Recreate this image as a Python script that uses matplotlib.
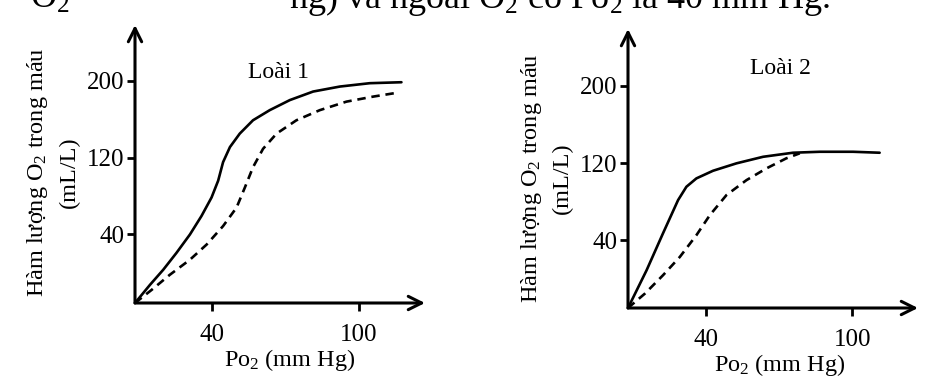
import matplotlib
matplotlib.use("Agg")
import matplotlib.pyplot as plt

# ---- data (schematic units) ----
x_ticks = [40, 100]
y_ticks = [40, 120, 200]

# Species 1 (Loài 1)
s1_solid_x = [8.8, 14.9, 20.3, 25.7, 31.2, 35.9, 40.0, 42.7, 44.7, 47.5, 51.5, 56.9,
              63.7, 71.9, 81.4, 92.3, 104.5, 117.4]
s1_solid_y = [-31.5, -12.6, 3.1, 20.7, 39.9, 59.1, 78.4, 95.9, 115.2, 130.9, 144.9, 158.8,
              169.3, 179.8, 188.7, 193.9, 197.4, 198.4]
s1_dash_x = [8.8, 15.6, 23.0, 31.2, 38.0, 44.7, 50.2, 53.6, 56.9, 61.0, 66.5, 74.6,
             84.1, 95.0, 105.8, 116.0]
s1_dash_y = [-31.5, -17.8, -2.1, 13.6, 29.4, 48.6, 67.9, 88.9, 109.9, 129.1, 144.9, 158.8,
             169.3, 178.2, 183.4, 187.6]

# Species 2 (Loài 2)
s2_solid_x = [8.2, 15.8, 22.5, 28.7, 32.1, 36.2, 43.0, 52.6, 63.5, 75.7, 86.7, 100.3, 111.2]
s2_solid_y = [-30.3, 8.8, 47.0, 81.6, 95.4, 104.1, 112.0, 119.7, 126.5, 130.7, 131.7, 131.7, 130.7]
s2_dash_x = [8.2, 15.1, 22.5, 29.4, 36.2, 41.7, 48.5, 56.7, 64.9, 73.0, 78.5]
s2_dash_y = [-30.3, -15.4, 3.6, 22.6, 45.2, 66.0, 86.8, 102.3, 114.5, 124.9, 130.1]

titles = ["Loài 1", "Loài 2"]
ylabel1 = "Hàm lượng O$_2$ trong máu"
ylabel2 = "(mL/L)"
xlabel = "Po$_2$ (mm Hg)"
top_text = "ng) và ngoài O$_2$ có Po$_2$ là 40 mm Hg."

plt.rcParams['font.family'] = ['Liberation Serif', 'DejaVu Serif']
plt.rcParams['mathtext.fontset'] = 'custom'
plt.rcParams['mathtext.rm'] = 'Liberation Serif'
plt.rcParams['mathtext.it'] = 'Liberation Serif'

W, H = 948, 384
fig = plt.figure(figsize=(W / 100, H / 100), dpi=100)


def fx(px):
    return px / W


def fy(py):
    return 1 - py / H


panels = [
    dict(box=(135, 303, 425, 25), xlim=(8.8, 127), ylim=(-31.5, 258),
         sx=s1_solid_x, sy=s1_solid_y, dx=s1_dash_x, dy=s1_dash_y,
         title=titles[0], tpos=(278, 72), yl1=38, yl2=69, ylc=172, xlpos=(290, 360)),
    dict(box=(628, 308, 918, 29), xlim=(8.2, 126.9), ylim=(-30.3, 259),
         sx=s2_solid_x, sy=s2_solid_y, dx=s2_dash_x, dy=s2_dash_y,
         title=titles[1], tpos=(780, 68), yl1=532, yl2=562, ylc=178, xlpos=(780, 365)),
]

for p in panels:
    x0, y0, x1, y1 = p['box']
    ax = fig.add_axes([fx(x0), fy(y0), fx(x1) - fx(x0), (y0 - y1) / H])
    ax.set_xlim(*p['xlim'])
    ax.set_ylim(*p['ylim'])
    ax.patch.set_alpha(0)
    for s in ['top', 'right', 'left', 'bottom']:
        ax.spines[s].set_visible(False)
    # axes with open arrow heads
    for tip in [(1, 0), (0, 1)]:
        ax.annotate('', xy=tip, xytext=(0, 0), xycoords='axes fraction',
                    arrowprops=dict(arrowstyle='->', lw=2.2, color='black',
                                    mutation_scale=24, shrinkA=0, shrinkB=0))
    ax.set_xticks(x_ticks)
    ax.set_yticks(y_ticks)
    ax.set_xticklabels([str(v) for v in x_ticks])
    ax.set_yticklabels([str(v) for v in y_ticks])
    ax.tick_params(axis='both', direction='out', length=6, width=2.0,
                   labelsize=18, color='black')
    ax.tick_params(axis='x', pad=9)
    ax.tick_params(axis='y', pad=1.5)

    ax.plot(p['sx'], p['sy'], color='black', lw=1.9, solid_capstyle='round',
            solid_joinstyle='round')
    ax.plot(p['dx'], p['dy'], color='black', lw=1.9, linestyle=(0, (3.2, 2.2)))

    fig.text(fx(p['tpos'][0]), fy(p['tpos'][1]), p['title'], ha='center', va='center',
             fontsize=17)
    fig.text(fx(p['yl1']), fy(p['ylc']), ylabel1, ha='center', va='center',
             rotation=90, fontsize=17.5)
    fig.text(fx(p['yl2']), fy(p['ylc']), ylabel2, ha='center', va='center',
             rotation=90, fontsize=17.5)
    fig.text(fx(p['xlpos'][0]), fy(p['xlpos'][1]), xlabel, ha='center', va='center',
             fontsize=17.5)

# cropped line of document text at the very top (only its lower part is visible)
fig.text(fx(30), fy(8), "O$_2$", ha='left', va='baseline', fontsize=26)
fig.text(fx(830), fy(8), top_text, ha='right', va='baseline', fontsize=26)

fig.savefig("out.png", dpi=100)
